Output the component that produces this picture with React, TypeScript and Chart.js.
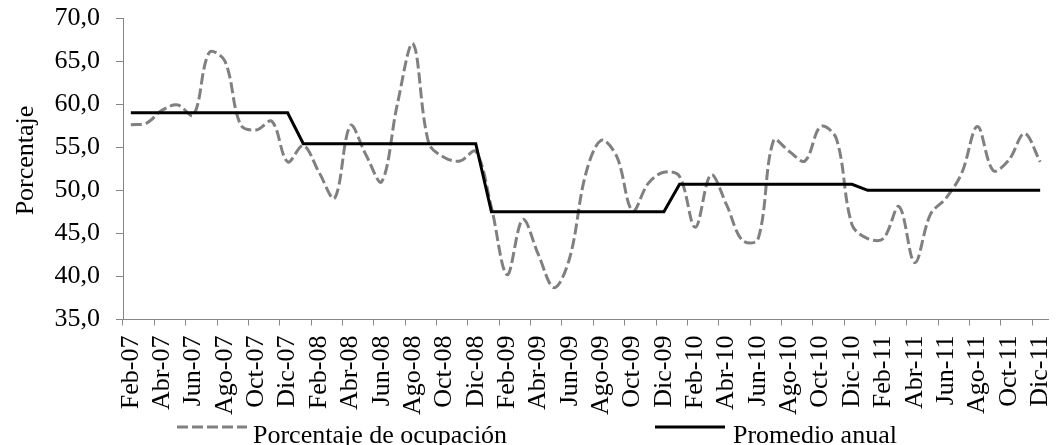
import React, { useEffect, useRef } from 'react';
import { Chart, registerables } from 'chart.js';

Chart.register(...registerables);

const categories: string[] = [
  'Feb-07', 'Mar-07', 'Abr-07', 'May-07', 'Jun-07', 'Jul-07', 'Ago-07', 'Sep-07', 'Oct-07', 'Nov-07', 'Dic-07',
  'Ene-08', 'Feb-08', 'Mar-08', 'Abr-08', 'May-08', 'Jun-08', 'Jul-08', 'Ago-08', 'Sep-08', 'Oct-08', 'Nov-08', 'Dic-08',
  'Ene-09', 'Feb-09', 'Mar-09', 'Abr-09', 'May-09', 'Jun-09', 'Jul-09', 'Ago-09', 'Sep-09', 'Oct-09', 'Nov-09', 'Dic-09',
  'Ene-10', 'Feb-10', 'Mar-10', 'Abr-10', 'May-10', 'Jun-10', 'Jul-10', 'Ago-10', 'Sep-10', 'Oct-10', 'Nov-10', 'Dic-10',
  'Ene-11', 'Feb-11', 'Mar-11', 'Abr-11', 'May-11', 'Jun-11', 'Jul-11', 'Ago-11', 'Sep-11', 'Oct-11', 'Nov-11', 'Dic-11',
];

const ocupacion: number[] = [
  57.6, 57.8, 59.3, 59.9, 58.7, 66.0, 65.0, 57.6, 57.0, 58.0, 53.3,
  55.2, 52.1, 49.1, 57.5, 54.1, 51.0, 60.0, 67.0, 55.5, 53.8, 53.4, 54.5,
  48.0, 40.2, 46.6, 42.5, 38.7, 42.2, 51.8, 55.8, 53.9, 47.6, 50.8, 52.1,
  51.6, 45.7, 51.8, 48.3, 44.2, 44.3, 55.8, 54.5, 53.4, 57.4, 56.0, 46.0,
  44.4, 44.4, 48.1, 41.6, 47.2, 49.1, 52.0, 57.4, 52.3, 53.5, 56.6, 53.3,
];

const promedioAnual: number[] = [
  59.0, 59.0, 59.0, 59.0, 59.0, 59.0, 59.0, 59.0, 59.0, 59.0, 59.0,
  55.4, 55.4, 55.4, 55.4, 55.4, 55.4, 55.4, 55.4, 55.4, 55.4, 55.4, 55.4,
  47.5, 47.5, 47.5, 47.5, 47.5, 47.5, 47.5, 47.5, 47.5, 47.5, 47.5, 47.5,
  50.7, 50.7, 50.7, 50.7, 50.7, 50.7, 50.7, 50.7, 50.7, 50.7, 50.7, 50.7,
  50.0, 50.0, 50.0, 50.0, 50.0, 50.0, 50.0, 50.0, 50.0, 50.0, 50.0, 50.0,
];

const seriesNames: string[] = ['Porcentaje de ocupación', 'Promedio anual'];
const yTitle = 'Porcentaje';
const yMin = 35;
const yMax = 70;
const yStep = 5;

const FONT = '"Liberation Serif", "Times New Roman", serif';
const AXIS = '#868686';
const GRAY = '#808080';

const overlayPlugin = {
  id: 'overlay',
  afterDraw(chart: any) {
    const ctx = chart.ctx as CanvasRenderingContext2D;
    ctx.save();
    ctx.font = `26px ${FONT}`;
    ctx.fillStyle = '#000';
    // y-axis title
    ctx.save();
    ctx.translate(33, 160.5);
    ctx.rotate(-Math.PI / 2);
    ctx.textAlign = 'center';
    ctx.textBaseline = 'alphabetic';
    ctx.fillText(yTitle, 0, 0);
    ctx.restore();
    // legend
    const items = [
      { x0: 177, x1: 247, tx: 253 },
      { x0: 655, x1: 725, tx: 733 },
    ];
    const ly = 427;
    chart.data.datasets.forEach((ds: any, i: number) => {
      const it = items[i];
      ctx.save();
      ctx.strokeStyle = ds.borderColor;
      ctx.lineWidth = ds.borderWidth;
      ctx.setLineDash(ds.borderDash || []);
      ctx.lineCap = 'butt';
      ctx.beginPath();
      ctx.moveTo(it.x0, ly);
      ctx.lineTo(it.x1, ly);
      ctx.stroke();
      ctx.restore();
      ctx.textAlign = 'left';
      ctx.textBaseline = 'alphabetic';
      ctx.fillText(ds.label, it.tx, 443);
    });
    ctx.restore();
  },
};

export default function App() {
  const ref = useRef<HTMLCanvasElement | null>(null);

  useEffect(() => {
    if (!ref.current) return;
    Chart.defaults.font.family = FONT;
    Chart.defaults.color = '#000';
    const chart = new Chart(ref.current, {
      type: 'line',
      data: {
        labels: categories,
        datasets: [
          {
            label: seriesNames[0],
            data: ocupacion,
            borderColor: GRAY,
            backgroundColor: GRAY,
            borderWidth: 3,
            borderDash: [11, 4],
            borderCapStyle: 'butt',
            pointRadius: 0,
            tension: 0.35,
            fill: false,
            order: 2,
          },
          {
            label: seriesNames[1],
            data: promedioAnual,
            borderColor: '#000000',
            backgroundColor: '#000000',
            borderWidth: 3,
            pointRadius: 0,
            tension: 0,
            fill: false,
            order: 1,
          },
        ],
      },
      options: {
        responsive: false,
        animation: false,
        devicePixelRatio: 1,
        layout: { padding: { top: 18, right: 8, left: 0, bottom: 0 } },
        plugins: {
          legend: { display: false },
          tooltip: { enabled: false },
          title: { display: false },
        },
        scales: {
          x: {
            type: 'category',
            offset: true,
            grid: {
              display: true,
              offset: true,
              drawOnChartArea: false,
              drawTicks: true,
              tickLength: 6,
              color: AXIS,
              tickColor: (c: any) => (c.index % 2 === 0 ? AXIS : 'rgba(0,0,0,0)'),
            },
            border: { display: true, color: AXIS, width: 1 },
            ticks: {
              autoSkip: false,
              minRotation: 90,
              maxRotation: 90,
              padding: 10,
              color: '#000',
              font: { size: 26, family: FONT },
              callback: (_v: any, i: number) => (i % 2 === 0 ? categories[i] : ''),
            },
            afterFit: (s: any) => {
              s.height = 125.5;
              s.paddingLeft = 0;
              s.paddingRight = 0;
              s.paddingTop = 0;
              s.paddingBottom = 0;
            },
          },
          y: {
            min: yMin,
            max: yMax,
            grid: {
              display: true,
              drawOnChartArea: false,
              drawTicks: true,
              tickLength: 7,
              color: AXIS,
              tickColor: AXIS,
            },
            border: { display: true, color: AXIS, width: 1 },
            ticks: {
              stepSize: yStep,
              padding: 16,
              color: '#000',
              font: { size: 26, family: FONT },
              callback: (v: any) => Number(v).toFixed(1).replace('.', ','),
            },
            afterFit: (s: any) => {
              s.width = 123;
              s.paddingTop = 0;
              s.paddingBottom = 0;
              s.paddingLeft = 0;
              s.paddingRight = 0;
            },
          },
        },
      },
      plugins: [overlayPlugin],
    } as any);
    return () => chart.destroy();
  }, []);

  return (
    <div style={{ position: 'fixed', left: 0, top: 0, width: 1056, height: 445, background: '#fff' }}>
      <canvas ref={ref} width={1056} height={445} style={{ display: 'block', width: 1056, height: 445 }} />
    </div>
  );
}
